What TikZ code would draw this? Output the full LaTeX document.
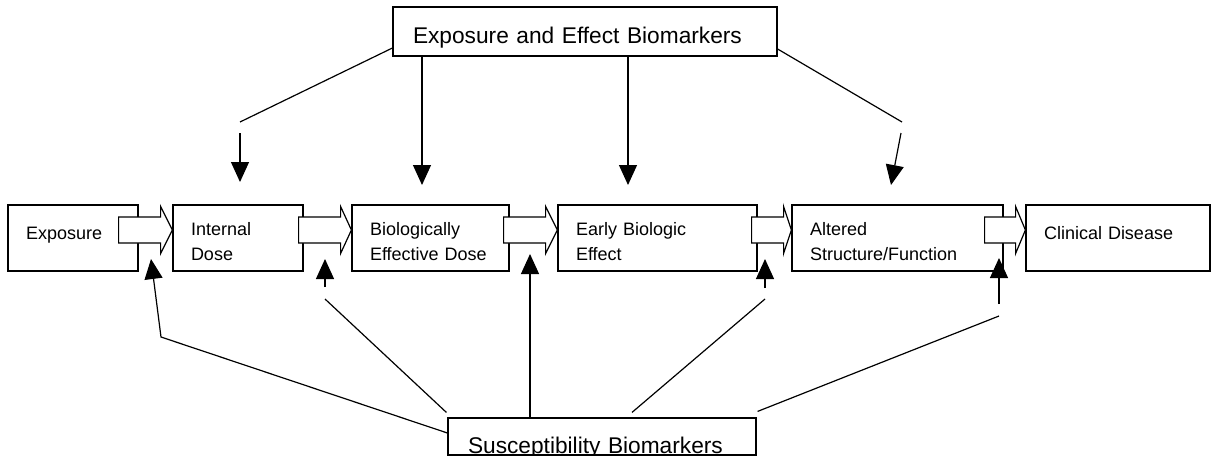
\documentclass[tikz,border=0pt]{standalone}
\usepackage{fontspec}
\setmainfont{Liberation Sans}
\usetikzlibrary{arrows.meta,calc}

\begin{document}
\begin{tikzpicture}[
    x=1pt, y=-1pt,
    stage/.style={draw, rectangle, line width=1.2pt, minimum height=66pt, inner xsep=18pt, inner ysep=0pt, align=left, text height=13pt, font=\fontsize{18}{25}\selectfont},
    oneline/.style={text depth=11pt},
    twoline/.style={text depth=19pt},
    marker/.style={draw, rectangle, line width=1.2pt, inner xsep=20pt, inner ysep=0pt, align=left, text depth=0pt, font=\fontsize{22.7}{27}\selectfont},
    fatarrow/.style={draw, fill=white, line width=1.2pt},
    link/.style={line width=1.2pt},
    pointer/.style={link, -{Triangle[length=20pt, width=18pt]}},
]

\path[use as bounding box, fill=white] (0,0) rectangle (1212,459);

% Stages from exposure to disease
\node[stage, oneline, text width=94pt] (expo) at (73,238) {Exposure};
\node[stage, twoline, text width=94pt] (dose) at (238,238) {Internal\\Dose};
\node[stage, twoline, text width=121pt] (bed) at (430.5,238) {Biologically\\Effective Dose};
\node[stage, twoline, text width=163pt] (ebe) at (657.5,238) {Early Biologic\\Effect};
\node[stage, twoline, text width=175pt] (asf) at (897.5,238) {Altered\\Structure/Function};
\node[stage, oneline, text width=148pt] (clin) at (1118,238) {Clinical Disease};

% Biomarker boxes
\node[marker, text width=344pt, text height=23pt, minimum width=384pt, minimum height=49pt] (effect) at (585,31.5) {Exposure and Effect Biomarkers};
\begin{scope}
  \clip (0,0) rectangle (1212,455.6);
  \node[marker, text width=268pt, text height=33pt, minimum width=308pt, minimum height=37pt] (suscept) at (602,436.5) {Susceptibility Biomarkers};
\end{scope}

% Block arrows between stages
\foreach \a/\b/\s/\l in {expo/dose/20/42, dose/bed/5/42, bed/ebe/6/42, ebe/asf/6/32, asf/clin/19/31}
  \draw[fatarrow] ($(\a.east)+(-\s,-21)$) -- ++(\l,0) -- ++(0,-10.5) -- ($(\b.west)+(0,-8)$)
    -- ($(\a.east)+(-\s+\l,15.5)$) -- ++(0,-10.5) -- ($(\a.east)+(-\s,5)$) -- cycle;

% Free ends above the chain
\coordinate (dose-bend) at (240,122);
\coordinate (dose-from) at (240,133);
\coordinate (dose-tip) at (240,182);
\coordinate (bed-tip) at (422,185);
\coordinate (ebe-tip) at (628,185);
\coordinate (asf-bend) at (902,122);
\coordinate (asf-from) at (901,133);
\coordinate (asf-tip) at (891,185);

\draw[link] ($(effect.west)+(0,16.5)$) -- (dose-bend);
\draw[pointer] (dose-from) -- (dose-tip);
\draw[pointer] (bed-tip |- effect.south) -- (bed-tip);
\draw[pointer] (ebe-tip |- effect.south) -- (ebe-tip);
\draw[link] ($(effect.east)+(0,17.5)$) -- (asf-bend);
\draw[pointer] (asf-from) -- (asf-tip);

% Free ends below the chain
\coordinate (expo-bend) at (161,337);
\coordinate (expo-up) at (151,259);
\coordinate (dose-low) at (325,299);
\coordinate (dose-up-from) at (325,287);
\coordinate (dose-up) at (325,259);
\coordinate (bed-up) at (530,254);
\coordinate (ebe-low) at (765,299);
\coordinate (ebe-up-from) at (765,288);
\coordinate (ebe-up) at (765,259);
\coordinate (asf-low) at (999,316);
\coordinate (asf-up-from) at (999,304);
\coordinate (asf-up) at (999,258);

\draw[pointer] ($(suscept.west)+(0,-3.5)$) -- (expo-bend) -- (expo-up);
\draw[link] ($(suscept.north west)+(-1,-5)$) -- (dose-low);
\draw[pointer] (dose-up-from) -- (dose-up);
\draw[pointer] (bed-up |- suscept.north) -- (bed-up);
\draw[link] ($(suscept.north)+(30,-5)$) -- (ebe-low);
\draw[pointer] (ebe-up-from) -- (ebe-up);
\draw[link] ($(suscept.north east)+(1,-6)$) -- (asf-low);
\draw[pointer] (asf-up-from) -- (asf-up);

\end{tikzpicture}
\end{document}
